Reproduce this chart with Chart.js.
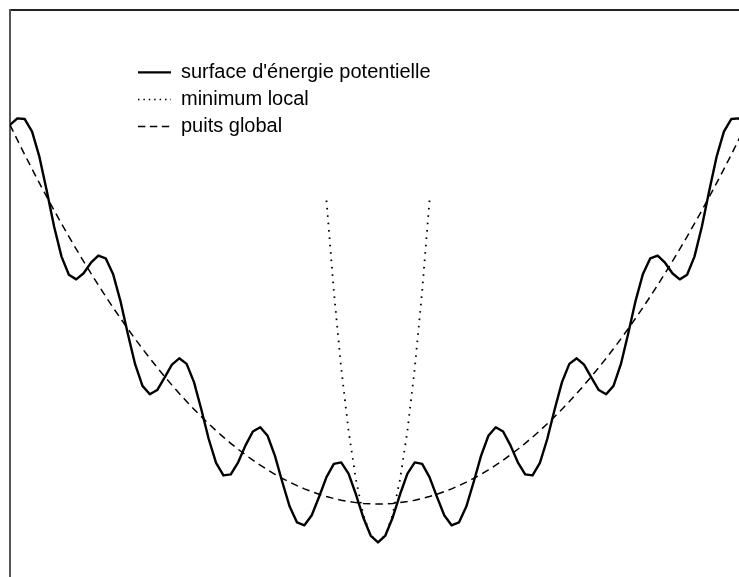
<!DOCTYPE html>
<html lang="fr">
<head>
<meta charset="utf-8">
<title>Surface d'énergie potentielle</title>
<script src="https://cdn.jsdelivr.net/npm/chart.js@4/dist/chart.umd.min.js"></script>
<style>
  html, body { margin: 0; padding: 0; background: #ffffff; overflow: hidden; }
  canvas { display: block; }
</style>
</head>
<body>
<canvas id="energie" width="739" height="577"></canvas>
<script>
// Coordonnée de réaction (rad), échantillonnage commun aux trois courbes
const xGrid = [
  -29.845, -29.248, -28.651, -28.054, -27.458, -26.861, -26.264, -25.667, -25.070, -24.473,
  -23.876, -23.279, -22.682, -22.085, -21.489, -20.892, -20.295, -19.698, -19.101, -18.504,
  -17.907, -17.310, -16.713, -16.116, -15.519, -14.923, -14.326, -13.729, -13.132, -12.535,
  -11.938, -11.341, -10.744, -10.147, -9.550, -8.954, -8.357, -7.760, -7.163, -6.566,
  -5.969, -5.372, -4.775, -4.178, -3.581, -2.985, -2.388, -1.791, -1.194, -0.597,
  0,
  0.597, 1.194, 1.791, 2.388, 2.985, 3.581, 4.178, 4.775, 5.372, 5.969,
  6.566, 7.163, 7.760, 8.357, 8.954, 9.550, 10.147, 10.744, 11.341, 11.938,
  12.535, 13.132, 13.729, 14.326, 14.923, 15.519, 16.116, 16.713, 17.310, 17.907,
  18.504, 19.101, 19.698, 20.295, 20.892, 21.489, 22.085, 22.682, 23.279, 23.876,
  24.473, 25.070, 25.667, 26.264, 26.861, 27.458, 28.054, 28.651, 29.248, 29.845
];

// Énergie de la surface (puits global modulé par les minima locaux)
const surfaceEnergy = [
  9.897, 10.067, 10.051, 9.721, 9.061, 8.173, 7.238, 6.459, 5.985, 5.865,
  6.025, 6.300, 6.487, 6.415, 6.007, 5.304, 4.451, 3.650, 3.085, 2.864,
  2.975, 3.298, 3.640, 3.804, 3.659, 3.181, 2.468, 1.697, 1.072, 0.746,
  0.775, 1.090, 1.531, 1.894, 2.006, 1.782, 1.258, 0.575, -0.067, -0.481,
  -0.555, -0.292, 0.191, 0.703, 1.047, 1.087, 0.792, 0.254, -0.352, -0.823,
  -1.000,
  -0.823, -0.352, 0.254, 0.792, 1.087, 1.047, 0.703, 0.191, -0.292, -0.555,
  -0.481, -0.067, 0.575, 1.258, 1.782, 2.006, 1.894, 1.531, 1.090, 0.775,
  0.746, 1.072, 1.697, 2.468, 3.181, 3.659, 3.804, 3.640, 3.298, 2.975,
  2.864, 3.085, 3.650, 4.451, 5.304, 6.007, 6.415, 6.487, 6.300, 6.025,
  5.865, 5.985, 6.459, 7.238, 8.173, 9.061, 9.721, 10.051, 10.067, 9.897
];

// Enveloppe du puits global
const globalWell = [
  9.897, 9.505, 9.121, 8.745, 8.377, 8.017, 7.664, 7.320, 6.983, 6.655,
  6.334, 6.021, 5.717, 5.420, 5.131, 4.850, 4.576, 4.311, 4.054, 3.804,
  3.563, 3.329, 3.104, 2.886, 2.676, 2.474, 2.280, 2.094, 1.916, 1.746,
  1.584, 1.429, 1.283, 1.144, 1.013, 0.891, 0.776, 0.669, 0.570, 0.479,
  0.396, 0.321, 0.253, 0.194, 0.143, 0.099, 0.063, 0.036, 0.016, 0.004,
  0,
  0.004, 0.016, 0.036, 0.063, 0.099, 0.143, 0.194, 0.253, 0.321, 0.396,
  0.479, 0.570, 0.669, 0.776, 0.891, 1.013, 1.144, 1.283, 1.429, 1.584,
  1.746, 1.916, 2.094, 2.280, 2.474, 2.676, 2.886, 3.104, 3.329, 3.563,
  3.804, 4.054, 4.311, 4.576, 4.850, 5.131, 5.420, 5.717, 6.021, 6.334,
  6.655, 6.983, 7.320, 7.664, 8.017, 8.377, 8.745, 9.121, 9.505, 9.897
];

// Approximation harmonique autour du minimum local central
const localX = [-4.178, -3.581, -2.985, -2.388, -1.791, -1.194, -0.597, 0,
                0.597, 1.194, 1.791, 2.388, 2.985, 3.581, 4.178];
const localMinimum = [7.923, 5.556, 3.553, 1.914, 0.639, -0.272, -0.818, -1.000,
                      -0.818, -0.272, 0.639, 1.914, 3.553, 5.556, 7.923];

const seriesLabels = ["surface d'énergie potentielle", "minimum local", "puits global"];

const toPoints = (xs, ys) => xs.map((x, i) => ({ x: x, y: ys[i] }));

// Styles des échantillons de légende
const legendDash = [[], [1.5, 3.9], [7.4, 4.5]];

// Place la légende dans la zone de tracé, en haut à gauche
const legendSpot = {
  id: 'legendSpot',
  afterLayout(chart) {
    const lg = chart.legend;
    if (!lg) return;
    const w = lg.width, h = lg.height;
    lg.left = 131;
    lg.top = 55.4;
    lg.right = lg.left + w;
    lg.bottom = lg.top + Math.max(h, 300);
  }
};

new Chart(document.getElementById('energie'), {
  type: 'line',
  data: {
    datasets: [
      {
        label: seriesLabels[0],
        data: toPoints(xGrid, surfaceEnergy),
        borderColor: '#000000',
        borderWidth: 2.4,
        borderDash: [],
        pointRadius: 0,
        tension: 0,
        fill: false,
        borderJoinStyle: 'round'
      },
      {
        label: seriesLabels[1],
        data: toPoints(localX, localMinimum),
        borderColor: '#000000',
        borderWidth: 1.8,
        borderDash: [1.6, 5.8],
        pointRadius: 0,
        tension: 0,
        fill: false
      },
      {
        label: seriesLabels[2],
        data: toPoints(xGrid, globalWell),
        borderColor: '#000000',
        borderWidth: 1.5,
        borderDash: [7.5, 5],
        pointRadius: 0,
        tension: 0,
        fill: false
      }
    ]
  },
  options: {
    responsive: false,
    devicePixelRatio: 1,
    animation: false,
    layout: { padding: { left: 10, top: 10, right: 0, bottom: 0 } },
    scales: {
      x: {
        type: 'linear',
        position: 'top',
        min: -29.845,
        max: 29.279,
        grid: { display: false, drawTicks: false, tickLength: 0 },
        ticks: { display: false },
        border: { display: true, color: '#222222', width: 2 }
      },
      y: {
        type: 'linear',
        position: 'left',
        min: -1.906,
        max: 12.898,
        grid: { display: false, drawTicks: false, tickLength: 0 },
        ticks: { display: false },
        border: { display: true, color: '#555555', width: 2 }
      }
    },
    plugins: {
      tooltip: { enabled: false },
      legend: {
        position: 'chartArea',
        align: 'start',
        labels: {
          usePointStyle: true,
          pointStyleWidth: 33,
          padding: 7,
          color: '#000000',
          font: { family: "'Liberation Sans', Arial, Helvetica, sans-serif", size: 20 },
          generateLabels(chart) {
            return chart.data.datasets.map((ds, i) => ({
              text: ds.label,
              fillStyle: 'rgba(0,0,0,0)',
              strokeStyle: ds.borderColor,
              lineWidth: i === 0 ? 2.4 : 1.5,
              lineDash: legendDash[i],
              lineCap: 'butt',
              pointStyle: 'line',
              hidden: false,
              datasetIndex: i,
              fontColor: '#000000'
            }));
          }
        }
      }
    }
  },
  plugins: [legendSpot]
});
</script>
</body>
</html>
